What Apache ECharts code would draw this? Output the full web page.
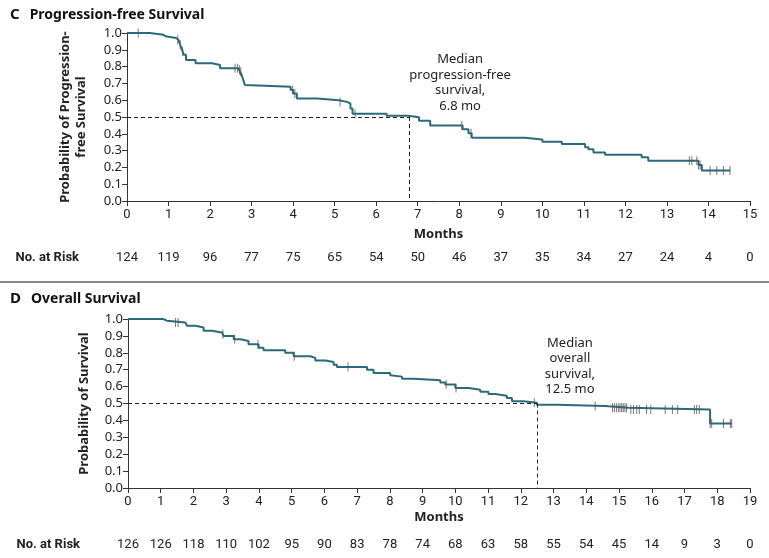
<!DOCTYPE html>
<html><head><meta charset="utf-8">
<script src="https://cdn.jsdelivr.net/npm/echarts@6/dist/echarts.min.js"></script>
<style>html,body{margin:0;padding:0;background:#fff}#c{width:769px;height:558px}</style>
</head><body><div id="c"></div>
<script>
// ---- Data ----
const pfsTimes = [0,0.55,0.87,0.93,1.18,1.24,1.28,1.31,1.34,1.37,1.42,1.65,2.05,2.24,2.68,2.72,2.76,2.80,2.84,2.87,3.94,4.00,4.09,4.57,5.10,5.30,5.38,5.43,6.25,6.77,7.03,7.30,8.08,8.22,8.30,9.58,10.00,10.47,11.03,11.11,11.23,11.51,12.39,12.55,13.76,13.84,14.52];
const pfsSurv  = [1.0,0.99,0.98,0.97,0.96,0.95,0.93,0.91,0.89,0.87,0.84,0.82,0.81,0.79,0.78,0.77,0.75,0.72,0.69,0.68,0.66,0.64,0.61,0.60,0.59,0.58,0.55,0.52,0.508,0.498,0.478,0.449,0.427,0.403,0.377,0.366,0.352,0.340,0.320,0.308,0.289,0.275,0.261,0.239,0.215,0.182,0.182];
const pfsCensor = [0.27,1.22,1.28,1.34,2.60,2.66,2.71,2.74,3.99,4.04,5.13,5.49,8.06,8.28,13.54,13.60,13.72,13.76,13.80,14.04,14.20,14.36,14.52];
const pfsMedian = 6.8;
const pfsTicks = [0,1,2,3,4,5,6,7,8,9,10,11,12,13,14,15];
const pfsAtRisk = [124,119,96,77,75,65,54,50,46,37,35,34,27,24,4,0];

const osTimes = [0,1.07,1.19,1.75,1.80,2.06,2.31,2.56,2.87,2.92,3.23,3.43,3.68,3.99,4.14,4.80,5.06,5.57,5.72,6.03,6.28,6.38,7.30,7.50,8.01,8.06,8.37,8.72,9.54,9.69,10.00,10.40,10.76,11.01,11.22,11.57,11.73,12.08,12.49,13.10,14.57,15.29,17.78,18.44];
const osSurv  = [1.0,0.99,0.98,0.97,0.96,0.95,0.93,0.92,0.91,0.90,0.88,0.87,0.85,0.83,0.815,0.80,0.78,0.77,0.755,0.745,0.73,0.716,0.70,0.68,0.667,0.659,0.647,0.637,0.625,0.613,0.592,0.582,0.570,0.556,0.546,0.533,0.513,0.505,0.493,0.485,0.475,0.464,0.381,0.381];
const osCensor = [1.45,1.53,2.90,3.26,3.97,5.08,6.72,9.72,10.02,12.41,14.27,14.80,14.86,14.92,14.98,15.03,15.08,15.13,15.18,15.23,15.36,15.44,15.54,15.62,15.84,15.97,16.41,16.63,16.79,17.30,17.37,17.45,17.78,17.83,18.19,18.40,18.44];
const osMedian = 12.5;
const osTicks = [0,1,2,3,4,5,6,7,8,9,10,11,12,13,14,15,16,17,18,19];
const osAtRisk = [126,126,118,110,102,95,90,83,78,74,68,63,58,55,54,45,14,9,3,0];

// ---- helpers ----
function pairs(t, s){ return t.map((v,i)=>[v, s[i]]); }
function survAt(t, s, x){ let v = s[0]; for (let i=0;i<t.length;i++){ if (t[i] <= x + 1e-9) v = s[i]; else break; } return v; }
function censorPts(c, t, s){ return c.map(x => [x, survAt(t, s, x)]); }

const LINE = '#2b6a7d';
const AX = '#333';
const narrow = 'Roboto,"Noto Sans",sans-serif';
const sans = '"Noto Sans","Open Sans",sans-serif';

function yAxis(gi, name, gap){
  return {
    type:'value', gridIndex:gi, min:0, max:1, interval:0.1,
    axisLine:{show:true, lineStyle:{color:AX, width:1}},
    axisTick:{show:true, length:5, lineStyle:{color:AX}},
    splitLine:{show:false},
    axisLabel:{formatter:v=>v.toFixed(1), color:'#222', fontSize:13, fontFamily:sans, margin:5},
    name:name, nameLocation:'middle', nameGap:gap, nameRotate:90,
    nameTextStyle:{fontWeight:'bold', fontSize:13, color:'#222', fontFamily:sans, lineHeight:16}
  };
}
function xAxis(gi, max, gap){
  return {
    type:'value', gridIndex:gi, min:0, max:max, interval:1,
    axisLine:{show:true, lineStyle:{color:AX, width:1}},
    axisTick:{show:true, length:5, lineStyle:{color:AX}},
    splitLine:{show:false},
    axisLabel:{color:'#222', fontSize:13, fontFamily:narrow, margin:7},
    name:'Months', nameLocation:'middle', nameGap:gap,
    nameTextStyle:{fontWeight:'bold', fontSize:13, color:'#222', fontFamily:sans}
  };
}
function riskAxis(gi, max, ticks, risk, off){
  return {
    type:'value', gridIndex:gi, min:0, max:max, interval:1, position:'bottom', offset:off,
    axisLine:{show:false}, axisTick:{show:false}, splitLine:{show:false},
    axisLabel:{formatter:v=>{const i=ticks.indexOf(Math.round(v)); return i>=0? String(risk[i]) : '';},
      color:'#222', fontSize:13, fontFamily:narrow, margin:0, verticalAlign:'middle'},
    name:'No. at Risk', nameLocation:'start', nameGap:48,
    nameTextStyle:{fontWeight:'bold', fontSize:13, color:'#222', fontFamily:narrow, align:'right', verticalAlign:'middle'}
  };
}
function km(xi, yi, t, s, med, labelPos, labelText){
  return {
    type:'line', xAxisIndex:xi, yAxisIndex:yi, step:'end', data:pairs(t,s),
    showSymbol:false, symbol:'none', lineStyle:{color:LINE, width:2}, z:3, animation:false,
    markLine:{silent:true, symbol:'none', animation:false,
      lineStyle:{type:[4,3], color:'#222', width:1},
      label:{show:false},
      data:[[{coord:[0,0.5]},{coord:[med,0.5]}],[{coord:[med,0.5]},{coord:[med,0]}]]},
    markPoint:{silent:true, animation:false, symbol:'circle', symbolSize:0,
      data:[{coord:labelPos, label:{show:true, position:'inside', formatter:labelText,
        color:'#222', fontSize:13, lineHeight:15.5, fontFamily:sans, align:'center', verticalAlign:'middle'}}]}
  };
}
function cens(xi, yi, pts){
  return {type:'scatter', xAxisIndex:xi, yAxisIndex:yi, data:pts, symbol:'rect', symbolSize:[1,9],
    itemStyle:{color:'#555'}, z:4, animation:false, silent:true};
}

const chart = echarts.init(document.getElementById('c'), null, {renderer:'canvas'});
chart.setOption({
  backgroundColor:'#fff',
  animation:false,
  title:[
    {text:'{l|C}  {t|Progression-free Survival}', left:5, top:1,
      textStyle:{rich:{l:{fontSize:15, fontWeight:'bold', fontFamily:sans, color:'#111'}, t:{fontSize:14, fontWeight:'bold', fontFamily:sans, color:'#111'}}}},
    {text:'{l|D}  {t|Overall Survival}', left:5, top:285,
      textStyle:{rich:{l:{fontSize:15, fontWeight:'bold', fontFamily:sans, color:'#111'}, t:{fontSize:14, fontWeight:'bold', fontFamily:sans, color:'#111'}}}}
  ],
  graphic:[{type:'line', shape:{x1:0, y1:282, x2:769, y2:282}, style:{stroke:'#888', lineWidth:2}}],
  grid:[
    {left:127, top:33, width:623, height:168},
    {left:128, top:319, width:622, height:169}
  ],
  xAxis:[ xAxis(0,15,27), xAxis(1,19,23), riskAxis(0,15,pfsTicks,pfsAtRisk,57), riskAxis(1,19,osTicks,osAtRisk,57) ],
  yAxis:[ yAxis(0,'Probability of Progression-\nfree Survival',38), yAxis(1,'Probability of Survival',36) ],
  series:[
    km(0,0,pfsTimes,pfsSurv,pfsMedian,[8.02,0.705],'Median\nprogression-free\nsurvival,\n6.8 mo'),
    cens(0,0,censorPts(pfsCensor,pfsTimes,pfsSurv)),
    km(1,1,osTimes,osSurv,osMedian,[13.5,0.72],'Median\noverall\nsurvival,\n12.5 mo'),
    cens(1,1,censorPts(osCensor,osTimes,osSurv))
  ]
});
</script></body></html>
